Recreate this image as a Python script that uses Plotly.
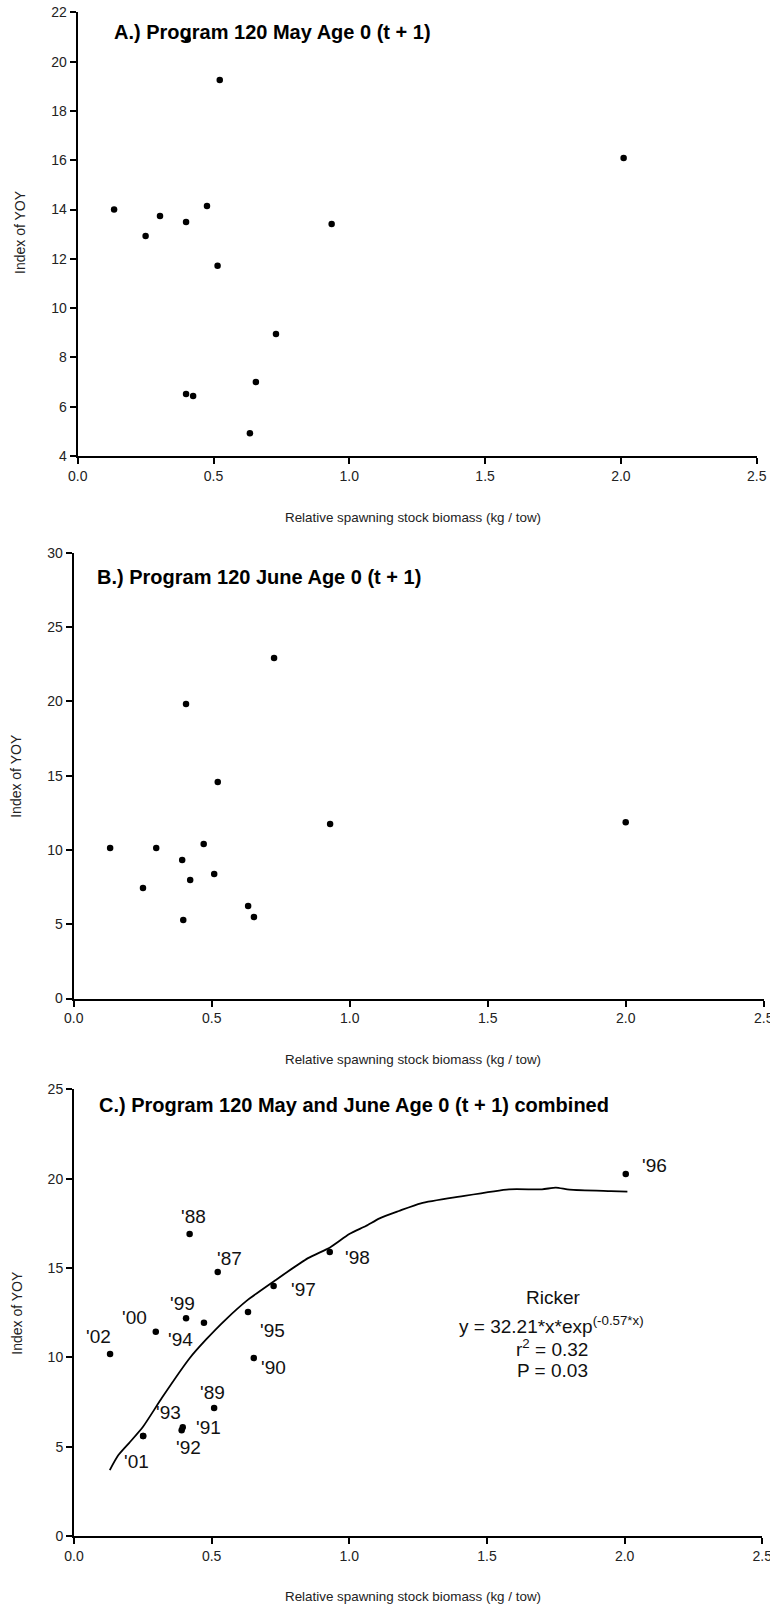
import plotly.graph_objects as go

W, H = 770, 1609

# ---------------- data ----------------
# Panel A: Program 120 May Age 0 (t + 1)
a_ssb = [0.134, 0.250, 0.303, 0.399, 0.405, 0.476, 0.523, 0.515, 0.935, 2.010, 0.399, 0.425, 0.634, 0.656, 0.730]
a_yoy = [14.00, 12.93, 13.74, 13.49, 20.90, 14.14, 19.25, 11.72, 13.41, 16.09, 6.52, 6.43, 4.92, 7.00, 8.95]

# Panel B: Program 120 June Age 0 (t + 1)
b_ssb = [0.132, 0.299, 0.471, 0.393, 0.251, 0.422, 0.509, 0.632, 0.653, 0.397, 0.929, 2.000, 0.407, 0.726, 0.522]
b_yoy = [10.13, 10.13, 10.40, 9.32, 7.44, 7.97, 8.38, 6.22, 5.48, 5.28, 11.74, 11.86, 19.82, 22.91, 14.57]

# Panel C: combined, with year labels
c_years = ["'02", "'00", "'99", "'94", "'87", "'95", "'90", "'97", "'98", "'89", "'91", "'92", "'93", "'01", "'88", "'96"]
c_ssb = [0.131, 0.297, 0.407, 0.472, 0.522, 0.632, 0.653, 0.725, 0.929, 0.509, 0.395, 0.391, 0.251, 0.251, 0.420, 2.004]
c_yoy = [10.18, 11.43, 12.18, 11.94, 14.77, 12.53, 9.96, 13.99, 15.89, 7.16, 6.08, 5.92, 5.60, 5.60, 16.90, 20.26]

# Ricker fit line as drawn
fit_x = [0.13, 0.16, 0.20, 0.25, 0.32, 0.42, 0.48, 0.55, 0.63, 0.73, 0.85, 0.93, 1.00, 1.06, 1.11,
         1.18, 1.26, 1.40, 1.58, 1.70, 1.75, 1.80, 1.95, 2.01]
fit_y = [3.69, 4.50, 5.20, 6.10, 7.75, 9.95, 11.00, 12.10, 13.20, 14.30, 15.55, 16.15, 16.90, 17.35, 17.78,
         18.19, 18.62, 18.99, 19.40, 19.40, 19.50, 19.38, 19.30, 19.27]

x_ticks = [0.0, 0.5, 1.0, 1.5, 2.0, 2.5]
a_yticks = [4, 6, 8, 10, 12, 14, 16, 18, 20, 22]
b_yticks = [0, 5, 10, 15, 20, 25, 30]
c_yticks = [0, 5, 10, 15, 20, 25]

titles = ["A.) Program 120 May Age 0 (t + 1)",
          "B.) Program 120 June Age 0 (t + 1)",
          "C.) Program 120 May and June Age 0 (t + 1) combined"]
x_title = "Relative spawning stock biomass (kg / tow)"
y_title = "Index of YOY"

# label offsets in pixels (dx right, dy down) for panel C year labels
label_offsets = {
    "'02": (-12, -18), "'00": (-21, -14), "'99": (-4, -15), "'94": (-23, 17),
    "'87": (12, -14), "'95": (24, 18), "'90": (20, 9), "'97": (30, 3),
    "'98": (28, 5), "'89": (-2, -16), "'91": (26, 0), "'92": (7, 17),
    "'93": (25, -23), "'01": (-7, 26), "'88": (4, -18), "'96": (29, -8),
}

# ---------------- layout geometry (pixels) ----------------
panels = [
    dict(l=77.7, r=756.7, t=12.3, b=456.0, yr=[4, 22], yt=a_yticks),
    dict(l=73.7, r=763.7, t=552.7, b=998.5, yr=[0, 30], yt=b_yticks),
    dict(l=74.0, r=762.3, t=1089.3, b=1536.0, yr=[0, 25], yt=c_yticks),
]

FONT = "Liberation Sans, Arial, sans-serif"

def px(xp):
    return xp / W

def py(yp):
    return 1 - yp / H

fig = go.Figure()

marker = dict(color="black", size=6.5, line=dict(width=0))

fig.add_trace(go.Scatter(x=a_ssb, y=a_yoy, mode="markers", marker=marker, xaxis="x", yaxis="y",
                         showlegend=False, cliponaxis=False))
fig.add_trace(go.Scatter(x=b_ssb, y=b_yoy, mode="markers", marker=marker, xaxis="x2", yaxis="y2",
                         showlegend=False, cliponaxis=False))
fig.add_trace(go.Scatter(x=fit_x, y=fit_y, mode="lines",
                         line=dict(color="black", width=1.8, shape="spline", smoothing=0.6),
                         xaxis="x3", yaxis="y3", showlegend=False))
fig.add_trace(go.Scatter(x=c_ssb, y=c_yoy, mode="markers", marker=marker, xaxis="x3", yaxis="y3",
                         showlegend=False, cliponaxis=False))

layout = dict(
    width=W, height=H, autosize=False,
    margin=dict(l=0, r=0, t=0, b=0, pad=0, autoexpand=False),
    paper_bgcolor="white", plot_bgcolor="white",
    font=dict(family=FONT, color="#222222", size=14),
    showlegend=False,
)

annotations = []
for i, p in enumerate(panels):
    sfx = "" if i == 0 else str(i + 1)
    ax_common = dict(showline=True, linecolor="black", linewidth=2, ticks="outside", ticklen=6,
                     tickwidth=2, tickcolor="black", showgrid=False, zeroline=False,
                     automargin=False, ticklabeloverflow="allow",
                     tickfont=dict(family=FONT, size=14, color="#222222"))
    layout["xaxis" + sfx] = dict(
        domain=[px(p["l"]), px(p["r"])], range=[0, 2.5], tickvals=x_ticks,
        tickformat=".1f", anchor="y" + sfx, **ax_common)
    layout["yaxis" + sfx] = dict(
        domain=[py(p["b"]), py(p["t"])], range=p["yr"], tickvals=p["yt"],
        anchor="x" + sfx, **ax_common)

# titles
title_pos = [(111.7, 31.7), (95.0, 576.7), (96.7, 1105.0)]
for t, (xp, yp) in zip(titles, title_pos):
    annotations.append(dict(text="<b>" + t + "</b>", x=px(xp), y=py(yp), xref="paper", yref="paper",
                            xanchor="left", yanchor="middle", showarrow=False,
                            font=dict(family=FONT, size=20, color="black")))

# x axis titles
for yp in [517.3, 1059.3, 1596.7]:
    annotations.append(dict(text=x_title, x=px(282.7), y=py(yp), xref="paper", yref="paper",
                            xanchor="left", yanchor="middle", showarrow=False,
                            font=dict(family=FONT, size=13.4, color="#222222")))

# y axis titles
for xp, yp in [(19.5, 232.5), (15.8, 776.0), (16.7, 1313.0)]:
    annotations.append(dict(text=y_title, x=px(xp), y=py(yp), xref="paper", yref="paper",
                            xanchor="center", yanchor="middle", textangle=-90, showarrow=False,
                            font=dict(family=FONT, size=14, color="#222222")))

# panel C year labels
for yr, xv, yv in zip(c_years, c_ssb, c_yoy):
    dx, dy = label_offsets[yr]
    annotations.append(dict(text=yr, x=xv, y=yv, xref="x3", yref="y3", xshift=dx, yshift=-dy,
                            xanchor="center", yanchor="middle", showarrow=False,
                            font=dict(family=FONT, size=19, color="#111111")))

# Ricker statistics
stats = [("Ricker", 553.8, 1297.3),
         ("y = 32.21*x*exp<sup>(-0.57*x)</sup>", 551.7, 1325.0),
         ("r<sup>2</sup> = 0.32", 551.7, 1347.7),
         ("P = 0.03", 552.5, 1370.0)]
for txt, xp, yp in stats:
    annotations.append(dict(text=txt, x=px(xp), y=py(yp), xref="paper", yref="paper",
                            xanchor="center", yanchor="middle", showarrow=False,
                            font=dict(family=FONT, size=19, color="#111111")))

layout["annotations"] = annotations
fig.update_layout(**layout)

fig.write_html("out.html", config={"displayModeBar": False},
               post_script="document.body.style.margin='0';document.body.style.overflow='hidden';")
